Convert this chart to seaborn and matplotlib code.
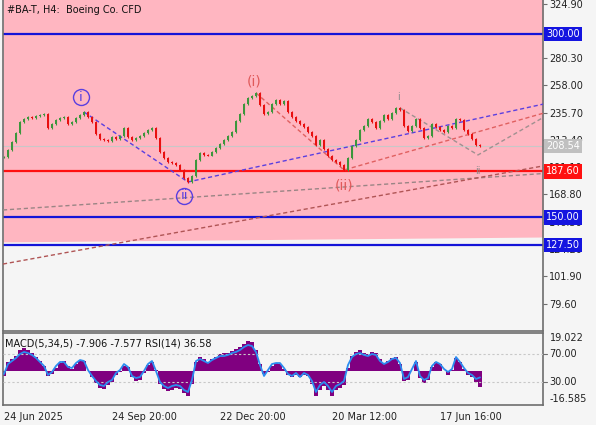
import numpy as np
import pandas as pd
import matplotlib
matplotlib.use("Agg")
import matplotlib.pyplot as plt
import matplotlib.transforms as mtransforms
import seaborn as sns

# ---------------- data ----------------
title = "#BA-T, H4:  Boeing Co. CFD"
macd_text = "MACD(5,34,5) -7.906 -7.577 RSI(14) 36.58"

close = [199.4, 205.1, 211.7, 219.0, 228.0, 230.5, 232.1, 231.3, 233.0, 233.8,
         234.6, 223.1, 226.4, 229.7, 231.3, 232.1, 226.4, 228.0, 231.3, 233.8,
         236.2, 232.1, 228.0, 218.2, 214.1, 213.3, 212.5, 215.8, 214.1, 216.6,
         223.1, 215.8, 213.3, 215.0, 216.6, 219.0, 221.5, 223.1, 215.0, 203.5,
         198.6, 195.3, 194.5, 192.9, 188.8, 182.2, 179.0, 183.9, 197.0, 202.7,
         201.1, 200.5, 203.5, 206.8, 210.0, 213.3, 216.6, 219.9, 228.9, 234.6,
         242.8, 247.7, 249.3, 251.8, 241.9, 234.6, 236.2, 242.8, 246.0, 242.8,
         245.2, 236.2, 232.1, 228.9, 226.4, 224.0, 219.9, 216.6, 209.2, 213.3,
         206.0, 200.2, 197.0, 195.3, 192.9, 188.8, 198.6, 208.4, 213.3, 221.5,
         224.8, 230.5, 228.0, 223.1, 228.9, 233.8, 230.5, 235.4, 239.5, 237.9,
         224.8, 220.7, 224.8, 230.5, 223.1, 215.0, 216.6, 226.4, 224.0, 221.5,
         219.9, 224.8, 223.1, 230.5, 229.7, 221.5, 218.2, 214.1, 209.2, 208.54]

macd = [-2.2, 4.7, 6.2, 7.7, 10.6, 11.6, 10.6, 9.1, 7.2, 5.2,
        2.7, -2.2, -1.2, 1.7, 4.2, 5.2, 2.7, 1.2, 3.7, 5.2,
        5.2, 0.2, -2.7, -5.7, -8.2, -8.7, -6.7, -5.2, -1.7, -0.2,
        2.7, 2.2, -2.7, -4.7, -4.2, -0.7, 3.2, 4.7, 0.7, -6.2,
        -8.7, -9.6, -9.1, -8.2, -8.7, -10.6, -12.1, -6.2, 4.7, 7.2,
        6.2, 4.7, 6.2, 7.2, 8.7, 9.1, 9.1, 10.1, 11.1, 12.1,
        13.6, 15.1, 14.6, 10.6, 3.7, -1.2, -0.2, 2.7, 4.2, 3.7,
        1.2, -1.7, -2.7, -1.7, -2.7, -1.7, -2.2, -6.2, -12.1, -9.1,
        -7.2, -9.1, -12.1, -9.1, -8.2, -6.7, 1.7, 7.7, 9.6, 10.6,
        9.1, 8.7, 9.6, 9.1, 6.2, 4.2, 5.2, 6.7, 7.2, 3.7,
        -4.7, -4.2, 0.2, 4.7, -3.2, -5.7, -4.2, 2.2, 4.7, 3.7,
        0.2, -1.7, 0.7, 6.7, 4.7, 1.2, -1.7, -2.7, -5.2, -7.906]

rsi = [41.4, 55.7, 60.0, 64.3, 70.0, 72.9, 71.4, 68.6, 64.3, 58.6,
       52.9, 40.0, 44.3, 52.9, 58.6, 58.6, 51.4, 50.0, 57.1, 61.4,
       60.0, 47.1, 38.6, 31.4, 25.7, 24.3, 30.0, 32.9, 42.9, 47.1,
       55.7, 51.4, 38.6, 35.7, 37.1, 45.7, 55.7, 60.0, 45.7, 30.0,
       24.3, 21.4, 24.3, 25.7, 24.3, 18.6, 15.7, 32.9, 60.0, 62.9,
       60.0, 57.1, 61.4, 64.3, 67.1, 67.1, 68.6, 71.4, 72.9, 75.7,
       80.0, 82.9, 81.4, 72.9, 54.3, 38.6, 47.1, 55.7, 57.1, 57.1,
       50.0, 41.4, 38.6, 42.9, 37.1, 42.9, 40.0, 31.4, 15.7, 25.7,
       30.0, 24.3, 15.7, 24.3, 27.1, 31.4, 54.3, 65.7, 70.0, 71.4,
       68.6, 67.1, 70.0, 68.6, 60.0, 55.7, 58.6, 62.9, 64.3, 57.1,
       34.3, 37.1, 48.6, 60.0, 38.6, 32.9, 35.7, 52.9, 58.6, 55.7,
       48.6, 44.3, 48.6, 65.7, 58.6, 50.0, 42.9, 40.0, 34.3, 36.58]

price_ticks = [324.90, 280.30, 258.00, 235.70, 213.40, 191.10, 168.80, 146.50, 124.20, 101.90, 79.60]
blue_levels = [300.00, 150.00, 127.50]
red_level = 187.60
last_price = 208.54
pink_zone_bottom = [130.0, 134.0]
time_ticks = [0, 27, 54, 82, 109]
time_labels = ["24 Jun 2025", "24 Sep 20:00", "22 Dec 20:00", "20 Mar 12:00", "17 Jun 16:00"]
macd_range = [-16.585, 19.022]
rsi_range = [-2.86, 100.0]
rsi_levels = [70.00, 30.00]

# wave paths (bar, price)
wave_blue = [(20, 236.2), (46, 179.0), (135, 242.8)]
wave_red = [(63, 251.8), (85, 188.8), (135, 235.4)]
wave_gray = [(99, 239.5), (118.5, 201.1), (135, 232.1)]
channel_gray = [(-0.25, 156.1), (134.75, 185.9)]
channel_brown = [(-0.25, 111.9), (134.75, 192.1)]

# wave labels: text, bar, price, offset px, colour, circled, size
wave_labels = [("i", 20, 236.2, (-3, 15), "#5a3fe0", True, 9.5),
               ("ii", 46, 179.0, (-4, -14), "#5a3fe0", True, 9.5),
               ("(i)", 63, 251.8, (-2, 11), "#e05a5a", False, 10),
               ("(ii)", 85, 188.8, (0, -16), "#e05a5a", False, 10),
               ("i", 99, 237.9, (-2, 13), "#8a8a8a", False, 7),
               ("ii", 118.5, 201.1, (0, -16), "#8a8a8a", False, 7)]

# ---------------- style ----------------
sns.set_theme(style="white")
plt.rcParams["font.family"] = ["DejaVu Sans"]
BG = "#f5f5f5"
SPINE = "#6e6e6e"

W, H = 596, 425
fig = plt.figure(figsize=(W / 100, H / 100), dpi=100, facecolor=BG)
ax = fig.add_axes([3 / W, 1 - 331 / H, 540 / W, 331 / H])
axm = fig.add_axes([3 / W, 20 / H, 540 / W, 72 / H])
for a in (ax, axm):
    a.set_facecolor(BG)
    for s in a.spines.values():
        s.set_color(SPINE)
        s.set_linewidth(1.2)
ax.spines["top"].set_visible(False)

n = len(close)
idx = np.arange(n)
xlim = (-0.25, 134.75)
ax.set_xlim(*xlim)
ax.set_ylim(57.15, 327.8)

# pink zone
ax.fill_between([xlim[0], xlim[1]], pink_zone_bottom, [400, 400], color="#ffb6c1", lw=0, zorder=0)

# horizontal levels
for lv in blue_levels:
    ax.axhline(lv, color="#1414d8", lw=1.6, zorder=2)
ax.axhline(red_level, color="#ff1010", lw=1.6, zorder=2)
ax.axhline(last_price, color="#c8c8c8", lw=0.8, zorder=1)

# channels & waves
def path(pts, color, ls=(0, (3, 2)), lw=1.0):
    xs = [p[0] for p in pts]
    ys = [p[1] for p in pts]
    ax.plot(xs, ys, color=color, lw=lw, ls=ls, zorder=3)

path(channel_gray, "#9a8585")
path(channel_brown, "#b05555")
path(wave_blue, "#5a3fe0")
path(wave_red, "#e06060")
path(wave_gray, "#a09090")

# candles
opens = np.array([close[0]] + close[:-1])
closes = np.array(close)
up = closes >= opens
cols = np.where(up, "#3c963c", "#e81010")
ax.bar(idx, closes - opens, bottom=opens, width=0.55, color=cols, lw=0, zorder=4)
ax.vlines(idx, np.minimum(opens, closes) - 0.6, np.maximum(opens, closes) + 0.6,
          colors=cols, lw=0.8, zorder=4)

# wave labels
for txt, bx, py, off, c, circ, fs in wave_labels:
    tr = mtransforms.offset_copy(ax.transData, fig=fig, x=off[0], y=off[1], units="dots")
    ax.text(bx, py, txt, transform=tr, ha="center", va="center", color=c, fontsize=fs, zorder=6)
    if circ:
        ax.plot([bx], [py], transform=tr, marker="o", ms=11.5, mfc="none", mec=c, mew=1.0,
                zorder=6, clip_on=False)

# right axis ticks
ax.yaxis.tick_right()
ax.set_yticks(price_ticks)
ax.set_yticklabels([f"{v:.2f}" for v in price_ticks])
ax.tick_params(axis="y", direction="out", length=3, width=0.8, color=SPINE,
               labelsize=7, pad=1.5, labelcolor="#222222")
ax.set_xticks([])

trans = mtransforms.blended_transform_factory(ax.transAxes, ax.transData)
def tag(val, fc, tc="white"):
    ax.text(1.006, val, f"{val:.2f}", transform=trans, ha="left", va="center", fontsize=7,
            color=tc, zorder=10, clip_on=False,
            bbox=dict(boxstyle="square,pad=0.22", fc=fc, ec="none"))
for lv in blue_levels:
    tag(lv, "#1414e0")
tag(red_level, "#ff1010")
tag(last_price, "#c0c0c0")

fig.text(7 / W, 1 - 10 / H, title, fontsize=7, color="#111111", va="center", ha="left")

# ---------------- MACD / RSI panel ----------------
axm.set_xlim(*xlim)
axm.set_ylim(*macd_range)
axm.bar(idx, macd, width=1.0, color="#800080", lw=0, zorder=2)
axr = axm.twinx()
axr.set_ylim(*rsi_range)
for lv in rsi_levels:
    axr.axhline(lv, color="#c8c8c8", lw=0.8, ls=(0, (2, 2)), zorder=1)
sns.lineplot(x=idx, y=rsi, ax=axr, color="#2b8cf0", lw=1.3, zorder=3)
axr.set_yticks([])
axr.set_ylabel("")
for s in axr.spines.values():
    s.set_visible(False)
axm.set_yticks([])
axm.set_xticks(time_ticks)
axm.set_xticklabels(time_labels)
axm.tick_params(axis="x", direction="out", length=3, width=0.8, color=SPINE,
                labelsize=7, pad=2, labelcolor="#222222")
for lab in axm.get_xticklabels():
    lab.set_horizontalalignment("left")

tr2 = mtransforms.blended_transform_factory(axm.transAxes, axr.transData)
for lv in rsi_levels:
    axr.text(1.012, lv, f"{lv:.2f}", transform=tr2, fontsize=7, va="center", ha="left",
             color="#222222", clip_on=False)
    axr.plot([1.0, 1.007], [lv, lv], transform=tr2, color=SPINE, lw=0.8, clip_on=False)
axm.text(1.012, 0.93, f"{macd_range[1]:.3f}", transform=axm.transAxes, fontsize=7,
         va="center", ha="left", color="#222222")
axm.text(1.012, 0.083, f"{macd_range[0]:.3f}", transform=axm.transAxes, fontsize=7,
         va="center", ha="left", color="#222222")
axm.text(0.003, 0.86, macd_text, transform=axm.transAxes, fontsize=7, va="center",
         ha="left", color="#111111", zorder=5)

fig.savefig("out.png", dpi=100, facecolor=BG)
